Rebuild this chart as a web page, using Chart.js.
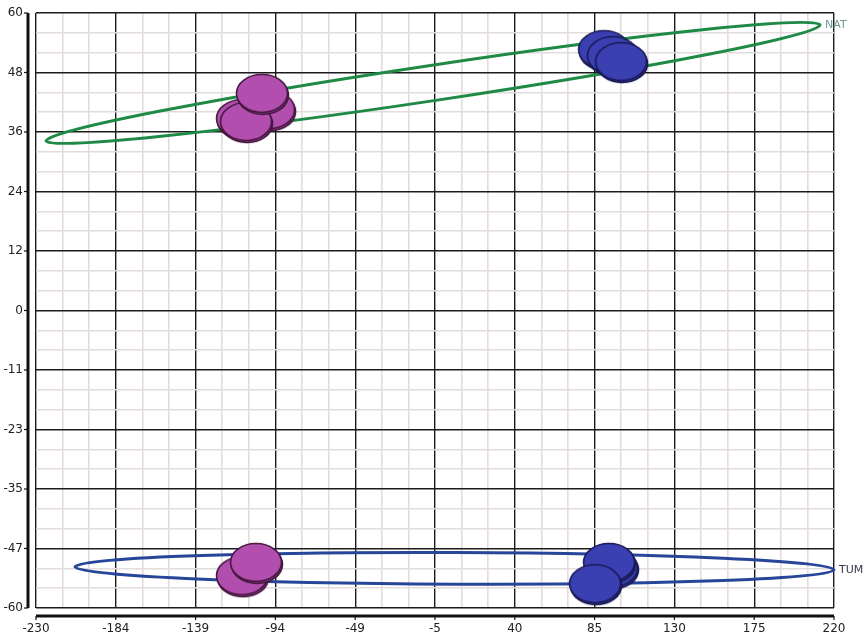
<!DOCTYPE html>
<html>
<head>
<meta charset="utf-8">
<script src="https://cdn.jsdelivr.net/npm/chart.js@4"></script>
<style>
  body { margin: 0; background: #fff; }
  #wrap { width: 864px; height: 635px; position: relative; }
</style>
</head>
<body>
<div id="wrap"><canvas id="scoreChart"></canvas></div>
<script>
// Axis tick labels (as printed on the original, bottom/left to top/right)
const xTickLabels = ['-230', '-184', '-139', '-94', '-49', '-5', '40', '85', '130', '175', '220'];
const yTickLabels = ['-60', '-47', '-35', '-23', '-11', '0', '12', '24', '36', '48', '60'];
const xMin = -230, xMax = 220;
const yMin = -60, yMax = 60;

// Sample scores (drawing order: later ones sit on top)
const pinkX = [-98.0, -113.3, -111.0, -102.0, -113.3, -105.4];
const pinkY = [40.4, 38.6, 38.0, 43.7, -53.6, -50.9];
const blueX = [90.9, 95.9, 100.5, 95.4, 93.7, 85.8];
const blueY = [52.5, 51.3, 50.1, -52.0, -50.9, -55.2];

// Group ellipses: centre, half width to the tip, rise at the tip, half thickness
const ellipseNames = ['NAT', 'TUM'];
const ellipseCX = [-6.1, 6.0];
const ellipseCY = [45.9, -52.0];
const ellipseHalfW = [218.2, 214.0];
const ellipseRise = [11.7, -0.3];
const ellipseHalfT = [3.6, 3.2];
const ellipseColors = ['#1f8a45', '#27469a'];
const ellipseLabelColors = ['#6f9c92', '#3a3a4a'];

/**
 * Build an oval disc marker (with a little depth) used as point style
 */
function ovalMarker(fill, side, edge) {
    const c = document.createElement('canvas');
    c.width = 56;
    c.height = 44;
    const g = c.getContext('2d');
    g.lineWidth = 1.6;
    g.strokeStyle = edge;
    // depth
    g.beginPath();
    g.ellipse(28, 23.5, 25.5, 19, 0, 0, Math.PI * 2);
    g.fillStyle = side;
    g.fill();
    g.stroke();
    // face
    g.beginPath();
    g.ellipse(27, 21.5, 25.5, 19, 0, 0, Math.PI * 2);
    g.fillStyle = fill;
    g.fill();
    g.stroke();
    return c;
}

const toPoints = (xs, ys) => xs.map((v, i) => ({ x: v, y: ys[i] }));

// Ticks every third of a labelled step, labelled ones are the major lines
function minorTicks(min, max, labels) {
    const n = (labels.length - 1) * 3;
    return function(scale) {
        scale.ticks = [];
        for (let k = 0; k <= n; k++) {
            scale.ticks.push({ value: min + k * (max - min) / n });
        }
    };
}

const gridColor = (c) => c.index % 3 === 0 ? '#1c1c1c' : '#e3dcdc';
const gridWidth = (c) => c.index % 3 === 0 ? 1.4 : 1.6;

// Confidence ellipses behind the points, names after
const ellipsePlugin = {
    id: 'groupEllipses',
    beforeDatasetsDraw(chart) {
        const { ctx, scales: { x, y } } = chart;
        ellipseNames.forEach((name, i) => {
            const cx = x.getPixelForValue(ellipseCX[i]);
            const cy = y.getPixelForValue(ellipseCY[i]);
            const tx = x.getPixelForValue(ellipseCX[i] + ellipseHalfW[i]);
            const ty = y.getPixelForValue(ellipseCY[i] + ellipseRise[i]);
            const rot = Math.atan2(ty - cy, tx - cx);
            const a = Math.hypot(tx - cx, ty - cy);
            const t = Math.abs(y.getPixelForValue(ellipseCY[i] + ellipseHalfT[i]) - cy);
            const b = t * Math.cos(rot);
            ctx.save();
            ctx.beginPath();
            ctx.ellipse(cx, cy, a, b, rot, 0, Math.PI * 2);
            ctx.strokeStyle = ellipseColors[i];
            ctx.lineWidth = 3;
            ctx.stroke();
            ctx.restore();
        });
    },
    afterDatasetsDraw(chart) {
        const { ctx, scales: { x, y } } = chart;
        ellipseNames.forEach((name, i) => {
            const tx = x.getPixelForValue(ellipseCX[i] + ellipseHalfW[i]);
            const ty = y.getPixelForValue(ellipseCY[i] + ellipseRise[i]);
            ctx.save();
            ctx.font = '11px "DejaVu Sans", sans-serif';
            ctx.fillStyle = ellipseLabelColors[i];
            ctx.textAlign = 'left';
            ctx.textBaseline = 'middle';
            ctx.fillText(name, tx + 5, ty);
            ctx.restore();
        });
    }
};

// Detached axis lines with small tick marks
const axisPlugin = {
    id: 'detachedAxes',
    afterDraw(chart) {
        const { ctx, chartArea: area, scales: { x, y } } = chart;
        ctx.save();
        ctx.strokeStyle = '#111';
        ctx.lineWidth = 3;
        const ax = area.left - 8;
        ctx.beginPath();
        ctx.moveTo(ax, area.top);
        ctx.lineTo(ax, area.bottom);
        ctx.stroke();
        const ay = area.bottom + 8;
        ctx.beginPath();
        ctx.moveTo(area.left, ay);
        ctx.lineTo(area.right, ay);
        ctx.stroke();
        ctx.lineWidth = 1.2;
        yTickLabels.forEach((l, i) => {
            const py = y.getPixelForValue(yMin + i * (yMax - yMin) / (yTickLabels.length - 1));
            ctx.beginPath();
            ctx.moveTo(ax - 4, py);
            ctx.lineTo(ax, py);
            ctx.stroke();
        });
        xTickLabels.forEach((l, i) => {
            const px = x.getPixelForValue(xMin + i * (xMax - xMin) / (xTickLabels.length - 1));
            ctx.beginPath();
            ctx.moveTo(px, ay);
            ctx.lineTo(px, ay + 4);
            ctx.stroke();
        });
        ctx.restore();
    }
};

const tickFont = { family: '"DejaVu Sans", sans-serif', size: 12 };

new Chart(document.getElementById('scoreChart'), {
    type: 'scatter',
    data: {
        datasets: [{
            label: 'pink',
            data: toPoints(pinkX, pinkY),
            pointStyle: ovalMarker('#b24fae', '#8a3787', '#45183f'),
            pointRadius: 22
        }, {
            label: 'blue',
            data: toPoints(blueX, blueY),
            pointStyle: ovalMarker('#3a3fb2', '#2a2e8c', '#1a1b55'),
            pointRadius: 22
        }]
    },
    options: {
        responsive: true,
        maintainAspectRatio: false,
        animation: false,
        layout: {
            autoPadding: false,
            padding: { top: 13, right: 30, left: 0, bottom: 0 }
        },
        plugins: {
            legend: { display: false },
            tooltip: { enabled: false }
        },
        scales: {
            x: {
                type: 'linear',
                min: xMin,
                max: xMax,
                afterBuildTicks: minorTicks(xMin, xMax, xTickLabels),
                afterFit(scale) {
                    scale.height = 27;
                    scale.paddingLeft = 0;
                    scale.paddingRight = 0;
                },
                border: { display: false },
                grid: { color: gridColor, lineWidth: gridWidth, drawTicks: false },
                ticks: {
                    autoSkip: false,
                    maxRotation: 0,
                    padding: 14,
                    color: '#222',
                    font: tickFont,
                    callback: (v, i) => i % 3 === 0 ? xTickLabels[i / 3] : ''
                }
            },
            y: {
                type: 'linear',
                min: yMin,
                max: yMax,
                afterBuildTicks: minorTicks(yMin, yMax, yTickLabels),
                afterFit(scale) {
                    scale.width = 36;
                    scale.paddingTop = 0;
                    scale.paddingBottom = 0;
                },
                border: { display: false },
                grid: { color: gridColor, lineWidth: gridWidth, drawTicks: false },
                ticks: {
                    autoSkip: false,
                    padding: 13,
                    color: '#222',
                    font: tickFont,
                    callback: (v, i) => i % 3 === 0 ? yTickLabels[i / 3] : ''
                }
            }
        }
    },
    plugins: [ellipsePlugin, axisPlugin]
});
</script>
</body>
</html>
